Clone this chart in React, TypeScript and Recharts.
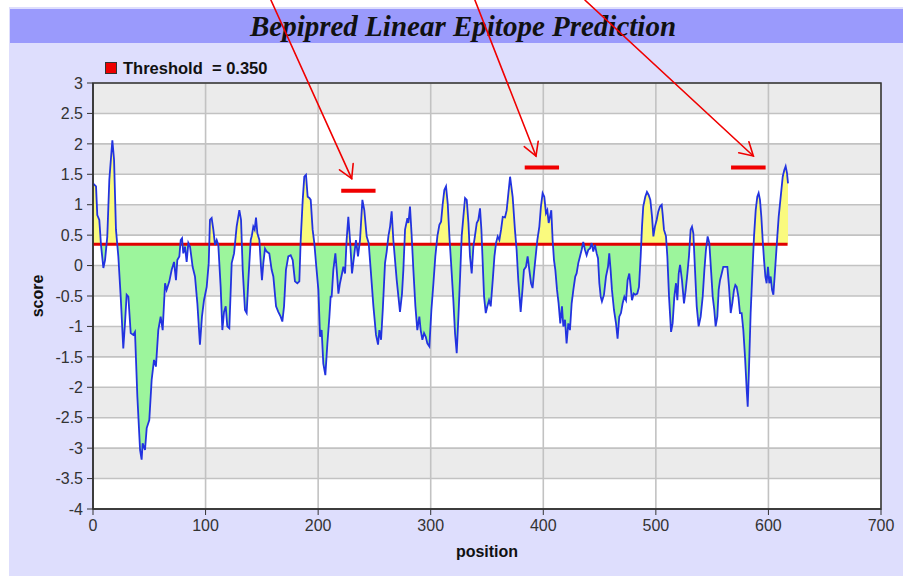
import {
  Area,
  CartesianGrid,
  ComposedChart,
  Line,
  ReferenceArea,
  ReferenceLine,
  XAxis,
  YAxis,
} from "recharts";

// sequence position / Bepipred score
const positions = [
  0, 2.7, 3.8, 5.6, 7.1, 9.2, 10.7, 12.7, 14.5, 17.2, 18.7, 20.4, 22.5, 24.6, 26.9, 28.4, 29.9, 31.4, 33.5, 35.8,
  37.3, 39.4, 41.8, 43.2, 44.1, 46.2, 47.7, 50, 52.1, 54.2, 55.9, 58, 60.1, 61.9, 64, 65.4, 67.8, 69.9, 72, 73.7,
  74.9, 76.7, 77.9, 79.1, 80.2, 81.7, 83.2, 84.7, 86.2, 88.5, 90.6, 92.7, 95, 96.8, 98.6, 101, 102.8, 103.9, 105.4,
  106.9, 108.4, 109.9, 111.3, 113.4, 114.9, 116.4, 117.9, 119.3, 121.1, 123.2, 125.3, 127.6, 130, 131.5, 133, 135,
  136.5, 138, 140.1, 141.2, 142.4, 143.6, 144.8, 146, 147.8, 149, 150.1, 151.3, 152.8, 154.3, 156.6, 158.7, 160.2,
  162.6, 164.6, 166.7, 168.2, 169.7, 171.4, 173.5, 175.6, 177.4, 179.4, 181.5, 183.3, 184.5, 186.3, 187.7, 189.2,
  190.7, 192.2, 193.4, 195.1, 196.6, 198.1, 200.2, 201.7, 203.1, 204.6, 206.4, 208.2, 210, 211.1, 212, 213.5, 215.3,
  216.5, 218, 219.4, 221.2, 222.4, 223.9, 225.3, 226.8, 228.3, 230.1, 231.9, 233.6, 235.4, 237.2, 239.3, 241, 243.1,
  244.9, 246.7, 249.1, 251.4, 253.2, 254.4, 255.9, 257.4, 259.4, 260.9, 262.4, 263.9, 265.3, 266.8, 268.3, 269.8,
  271.3, 272.7, 274.5, 275.7, 277.2, 279.3, 280.2, 281.6, 283.1, 284.6, 286.4, 288.1, 289.9, 291.1, 292.6, 294.1,
  295.6, 297, 298.8, 300.6, 302.4, 304.1, 305.9, 307.7, 309.2, 310.7, 312.1, 313.6, 315.1, 316.6, 318.1, 320.1,
  321.6, 323.1, 324.6, 326.1, 327.5, 329, 330.5, 332, 333.5, 334.9, 336.4, 337.9, 339.4, 340.9, 342.3, 343.8, 345,
  346.2, 347.4, 348.9, 350.3, 351.8, 353.3, 355.1, 356.6, 358, 359.5, 361, 362.5, 364, 366, 367.5, 369, 370.5,
  372.8, 374.8, 376.3, 377.8, 379.9, 381.7, 382.8, 384.6, 386.1, 387.6, 389.1, 390.5, 392, 393.5, 394.7, 396.5,
  397.9, 399.4, 400.9, 402.4, 403.6, 404.8, 405.9, 407.1, 408.3, 409.5, 410.7, 412.2, 413.6, 415.1, 416.6, 417.8,
  419.3, 420.7, 422.2, 423.7, 425.2, 426.7, 428.4, 429.6, 431.1, 432.6, 434.1, 435.5, 437, 438.5, 440, 441.5, 443,
  444.4, 445.9, 447.4, 448.6, 449.8, 451, 452.1, 453.9, 455.7, 457.5, 458.6, 459.8, 461, 462.8, 464.6, 466, 467.5,
  469, 470.5, 472, 473.5, 474.9, 476.4, 477.6, 478.8, 480.3, 481.7, 483.5, 485, 486.5, 487.7, 488.8, 490.6, 492.1,
  493.6, 495.1, 496.6, 497.8, 499.2, 500.7, 502.2, 503.7, 505.2, 506.1, 507.2, 509, 510.2, 511.7, 513.5, 514.9,
  516.4, 517.9, 519.1, 520.3, 521.5, 523.2, 525, 526.5, 528, 529.4, 530.9, 532.1, 533.3, 534.5, 536.3, 538, 539.8,
  541.6, 543.1, 544.5, 546, 547.5, 549, 550.5, 551.9, 553.1, 554.6, 555.8, 557, 558.5, 559.9, 561.7, 563.5, 565,
  566.5, 567.9, 569.4, 570.6, 571.8, 573.3, 574.7, 576.2, 577.7, 579.2, 580.7, 581.6, 582.7, 584.2, 585.7, 587.2,
  588.7, 590.1, 591.3, 592.5, 593.7, 594.9, 596.1, 597.3, 598.4, 599.6, 600.8, 602, 603.2, 604.4, 605.5, 606.7,
  607.9, 609.1, 610.3, 611.5, 612.7, 614.1, 615.3, 616.5, 617.4,
];

const scores = [
  1.35, 1.3, 0.83, 0.75, 0.34, -0.04, 0.09, 0.48, 1.41, 2.06, 1.74, 0.59, 0.15, -0.51, -1.36, -0.95, -0.48, -0.51,
  -1.11, -1.14, -1.09, -2.15, -3.03, -3.19, -2.92, -3.03, -2.67, -2.54, -1.88, -1.55, -1.66, -1.06, -0.84, -1.06,
  -0.29, -0.4, -0.26, -0.07, 0.06, -0.24, 0.09, 0.15, 0.42, 0.45, 0.2, 0.31, 0.06, 0.37, 0.31, -0.02, -0.18, -0.62,
  -1.3, -0.84, -0.57, -0.35, 0.04, 0.75, 0.78, 0.59, 0.34, 0.42, 0.34, -0.35, -1.06, -0.76, -0.67, -1.0, -1.03, 0.04,
  0.2, 0.64, 0.91, 0.75, -0.07, -0.73, -0.78, -0.24, 0.42, 0.5, 0.64, 0.59, 0.79, 0.53, 0.42, 0.04, -0.24, 0.04, 0.28,
  0.23, 0.2, -0.07, -0.18, -0.67, -0.76, -0.84, -0.92, -0.67, -0.07, 0.15, 0.17, 0.09, -0.26, -0.29, -0.26, 0.42,
  1.08, 1.46, 1.49, 1.13, 1.11, 1.08, 0.59, 0.37, 0.04, -0.4, -1.17, -1.06, -1.61, -1.8, -1.28, -0.84, -0.51, -0.51,
  -0.07, 0.2, -0.07, -0.46, -0.29, -0.13, -0.02, -0.13, 0.42, 0.8, 0.42, -0.13, 0.15, 0.42, 0.15, 0.42, 1.08, 0.91,
  0.48, 0.37, -0.07, -0.67, -1.14, -1.3, -1.06, -1.22, -0.73, 0.04, 0.23, 0.48, 0.64, 0.89, 0.42, 0.09, -0.24, -0.51,
  -0.76, -0.46, -0.07, 0.59, 0.78, 0.7, 0.97, 0.48, -0.07, -0.67, -1.06, -0.84, -1.06, -1.22, -1.11, -1.17, -1.28,
  -1.33, -0.73, -0.29, 0.15, 0.48, 0.67, 0.72, 1.02, 1.24, 1.3, 1.02, 0.48, 0.04, -0.57, -1.11, -1.44, -0.84, -0.18,
  0.48, 0.8, 1.11, 1.08, 0.7, 0.15, -0.13, 0.31, 0.5, 0.7, 0.75, 0.94, 0.59, 0.04, -0.51, -0.78, -0.67, -0.57, -0.67,
  -0.24, 0.15, 0.37, 0.48, 0.42, 0.59, 0.8, 0.79, 0.91, 1.19, 1.46, 1.13, 0.59, 0.26, -0.24, -0.76, -0.35, -0.07,
  -0.02, 0.15, -0.07, -0.29, -0.37, -0.07, 0.2, 0.42, 0.64, 0.97, 1.19, 1.13, 0.86, 0.91, 0.7, 0.8, 0.91, 0.42, 0.09,
  -0.07, -0.4, -0.62, -0.95, -0.67, -1.0, -0.89, -1.28, -0.95, -1.06, -0.62, -0.4, -0.18, -0.13, 0.04, 0.15, 0.26,
  0.39, 0.26, 0.17, 0.26, 0.28, 0.37, 0.23, 0.34, 0.2, 0.12, -0.29, -0.51, -0.59, -0.48, -0.18, -0.02, 0.2, -0.07,
  -0.4, -0.73, -0.95, -1.2, -0.84, -0.78, -0.62, -0.51, -0.57, -0.24, -0.13, -0.35, -0.57, -0.46, -0.48, -0.46, -0.35,
  0.15, 0.64, 0.97, 1.13, 1.21, 1.16, 1.08, 0.8, 0.48, 0.64, 0.75, 0.89, 0.97, 1.0, 0.83, 0.59, 0.48, 0.15, -0.51,
  -1.09, -0.95, -0.51, -0.29, -0.57, -0.13, 0.01, -0.24, -0.62, -0.4, -0.13, 0.15, 0.59, 0.64, 0.53, 0.04, -0.67,
  -1.0, -0.84, -0.51, -0.07, 0.26, 0.48, 0.37, -0.07, -0.51, -0.73, -1.0, -0.84, -0.4, -0.24, -0.13, -0.02, -0.02,
  -0.02, -0.35, -0.78, -0.62, -0.4, -0.32, -0.35, -0.51, -0.78, -0.78, -1.06, -1.5, -2.04, -2.32, -1.71, -0.78,
  -0.13, 0.48, 0.91, 1.13, 1.19, 1.08, 0.8, 0.42, 0.09, -0.18, -0.29, -0.02, -0.29, -0.18, -0.4, -0.48, -0.18, 0.15,
  0.48, 0.8, 1.02, 1.24, 1.46, 1.57, 1.63, 1.52, 1.35,
];

const THRESHOLD = 0.35;
const THRESHOLD_END = 617;

const xTicks = [0, 100, 200, 300, 400, 500, 600, 700];
const yTicks = [3, 2.5, 2, 1.5, 1, 0.5, 0, -0.5, -1, -1.5, -2, -2.5, -3, -3.5, -4];

// hand-drawn red marks over predicted epitopes
const markStart = [220.5, 383.5, 566.8];
const markEnd = [251, 414, 597.5];
const markLevel = [1.23, 1.61, 1.61];

// arrows come in from above the plot
const arrowFromX = [158.1, 339.3, 437.1];
const arrowFromY = [4.36, 4.36, 4.36];
const arrowToX = [229.8, 393.5, 586.6];
const arrowToY = [1.43, 1.8, 1.8];

const data = positions.map((pos, i) => ({ pos, score: scores[i] }));

const maxScore = Math.max(...scores);
const minScore = Math.min(...scores);
const splitOffset = (maxScore - THRESHOLD) / (maxScore - minScore);

const SANS = "'Liberation Sans', Arial, sans-serif";

function Arrow(props: any) {
  const { x1, y1, x2, y2 } = props;
  const ang = Math.atan2(y2 - y1, x2 - x1);
  const len = 15;
  const spread = Math.PI / 6;
  const ax = x2 - len * Math.cos(ang - spread);
  const ay = y2 - len * Math.sin(ang - spread);
  const bx = x2 - len * Math.cos(ang + spread);
  const by = y2 - len * Math.sin(ang + spread);
  return (
    <g stroke="#f00000" strokeWidth={1.6} fill="none" strokeLinecap="round">
      <line x1={x1} y1={y1} x2={x2} y2={y2} />
      <polyline points={`${ax},${ay} ${x2},${y2} ${bx},${by}`} />
    </g>
  );
}

export default function App() {
  return (
    <div
      style={{
        position: "absolute",
        left: 0,
        top: 0,
        width: 903,
        height: 576,
        overflow: "hidden",
        background: "#ffffff",
        fontFamily: SANS,
      }}
    >
      <div
        style={{
          position: "absolute",
          left: 9,
          top: 7,
          right: 0,
          bottom: 0,
          background: "#dedefd",
        }}
      />
      <div
        style={{
          position: "absolute",
          left: 10,
          top: 9,
          width: 900,
          height: 34,
          background: "#9a9afc",
        }}
      />
      <div
        style={{
          position: "absolute",
          left: 0,
          top: 9,
          width: 926,
          height: 35,
          lineHeight: "35px",
          textAlign: "center",
          fontFamily: "'Liberation Serif', 'Times New Roman', serif",
          fontWeight: "bold",
          fontStyle: "italic",
          fontSize: 29,
          color: "#111",
          whiteSpace: "nowrap",
        }}
      >
        Bepipred Linear Epitope Prediction
      </div>

      <div
        style={{
          position: "absolute",
          left: 105,
          top: 58,
          height: 20,
          display: "flex",
          alignItems: "center",
          fontWeight: "bold",
          fontSize: 16.5,
          color: "#111",
          whiteSpace: "pre",
        }}
      >
        <span
          style={{
            display: "inline-block",
            width: 10,
            height: 10,
            background: "#ee0000",
            border: "1px solid #333",
            marginRight: 6,
          }}
        />
        {`Threshold  = ${THRESHOLD.toFixed(3)}`}
      </div>

      <div style={{ position: "absolute", left: 0, top: 0 }}>
        <ComposedChart
          width={903}
          height={576}
          data={data}
          margin={{ top: 83, right: 22, bottom: 37, left: 33 }}
        >
          <defs>
            <linearGradient id="epiFill" x1="0" y1="0" x2="0" y2="1">
              <stop offset={0} stopColor="#fafa7e" />
              <stop offset={splitOffset} stopColor="#fafa7e" />
              <stop offset={splitOffset} stopColor="#9cf59c" />
              <stop offset={1} stopColor="#9cf59c" />
            </linearGradient>
          </defs>
          <CartesianGrid
            stroke="#c2c2c2"
            strokeWidth={1.6}
            horizontalFill={["#ebebeb", "#ffffff"]}
          />
          <XAxis
            type="number"
            dataKey="pos"
            domain={[0, 700]}
            ticks={xTicks}
            interval={0}
            height={30}
            tickSize={6}
            tickMargin={5}
            axisLine={{ stroke: "#333", strokeWidth: 1.5 }}
            tickLine={{ stroke: "#333" }}
            tick={{ fill: "#333", fontSize: 16, fontFamily: SANS }}
            label={{
              value: "position",
              position: "bottom",
              offset: 7,
              fill: "#111",
              fontSize: 16,
              fontWeight: "bold",
              fontFamily: SANS,
            }}
          />
          <YAxis
            type="number"
            domain={[-4, 3]}
            ticks={yTicks}
            interval={0}
            width={60}
            tickSize={6}
            tickMargin={4}
            axisLine={{ stroke: "#333", strokeWidth: 1.5 }}
            tickLine={{ stroke: "#333" }}
            tick={{ fill: "#333", fontSize: 16, fontFamily: SANS }}
            label={{
              value: "score",
              angle: -90,
              position: "insideLeft",
              offset: 4,
              fill: "#111",
              fontSize: 16,
              fontWeight: "bold",
              fontFamily: SANS,
              style: { textAnchor: "middle" },
            }}
          />
          <Area
            type="linear"
            dataKey="score"
            baseValue={THRESHOLD}
            stroke="none"
            fill="url(#epiFill)"
            fillOpacity={1}
            isAnimationActive={false}
          />
          <ReferenceLine
            segment={[
              { x: 0, y: THRESHOLD },
              { x: THRESHOLD_END, y: THRESHOLD },
            ]}
            stroke="#e00000"
            strokeWidth={3}
          />
          <Line
            type="linear"
            dataKey="score"
            stroke="#2233e0"
            strokeWidth={1.8}
            dot={false}
            activeDot={false}
            isAnimationActive={false}
          />
          <ReferenceArea
            x1={0}
            x2={700}
            y1={-4}
            y2={3}
            fill="none"
            stroke="#333"
            strokeWidth={1.5}
            ifOverflow="visible"
          />
          {markStart.map((s, i) => (
            <ReferenceLine
              key={`mark-${i}`}
              segment={[
                { x: s, y: markLevel[i] },
                { x: markEnd[i], y: markLevel[i] },
              ]}
              stroke="#f00000"
              strokeWidth={4}
              ifOverflow="visible"
            />
          ))}
          {arrowFromX.map((fx, i) => (
            <ReferenceLine
              key={`arrow-${i}`}
              segment={[
                { x: fx, y: arrowFromY[i] },
                { x: arrowToX[i], y: arrowToY[i] },
              ]}
              ifOverflow="visible"
              shape={Arrow}
            />
          ))}
        </ComposedChart>
      </div>
    </div>
  );
}
